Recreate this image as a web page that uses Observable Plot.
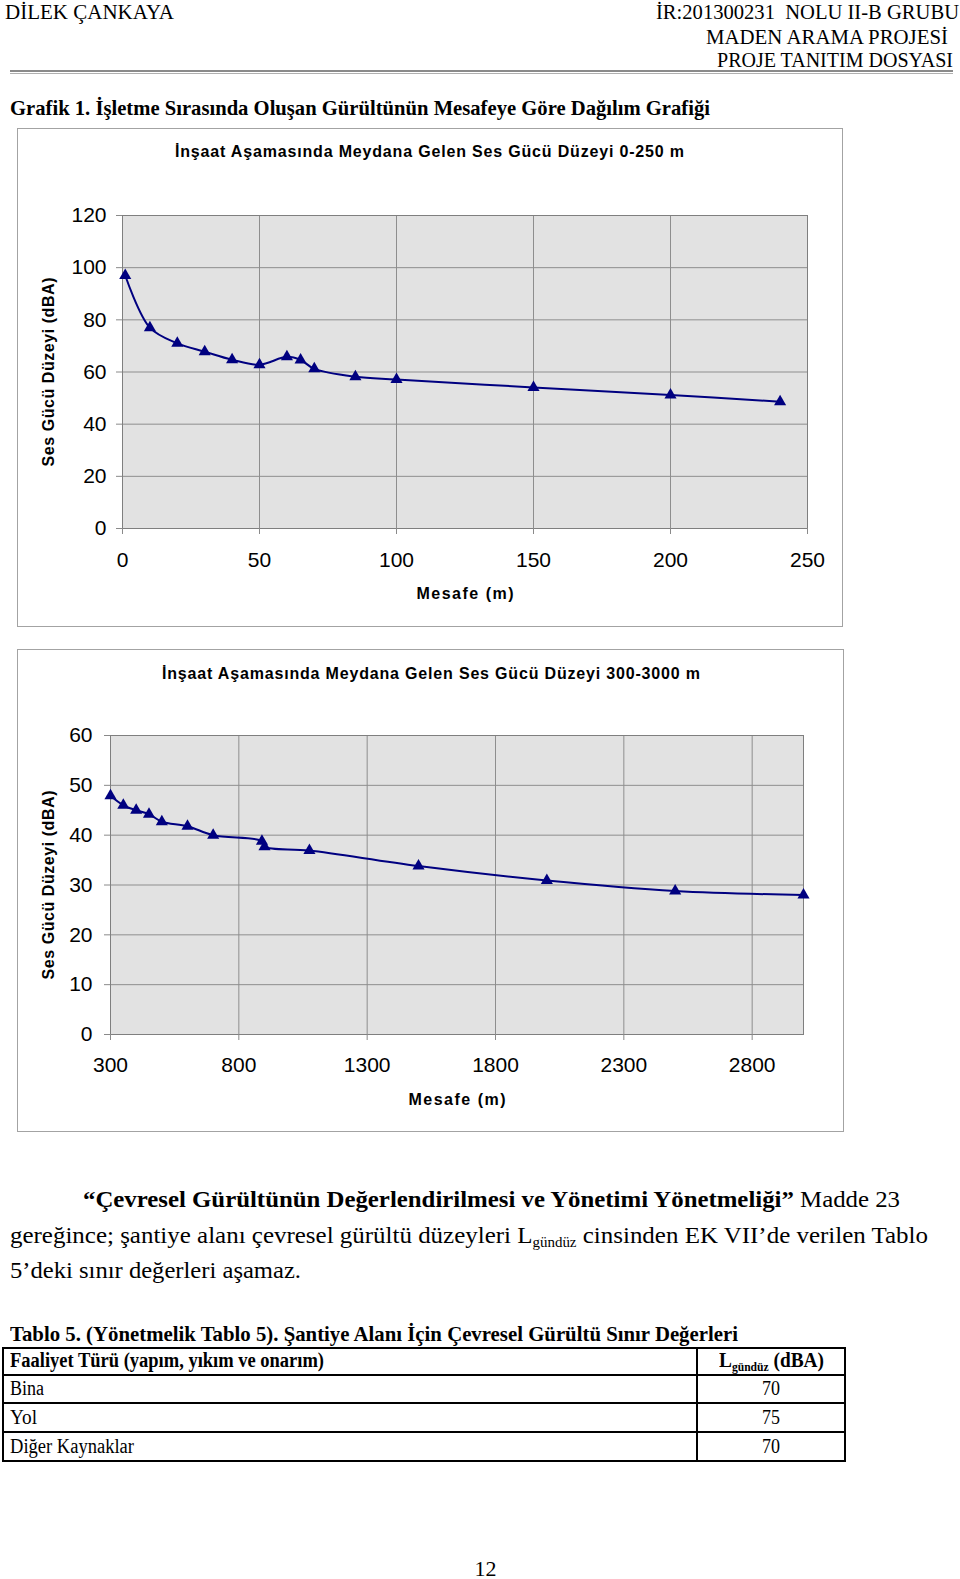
<!DOCTYPE html>
<html>
<head>
<meta charset="utf-8">
<script src="https://cdn.jsdelivr.net/npm/d3@7"></script>
<script src="https://cdn.jsdelivr.net/npm/@observablehq/plot@0.6"></script>
<style>
html, body { margin: 0; padding: 0; background: #fff; }
body { width: 960px; height: 1579px; position: relative; overflow: hidden; }
.t { position: absolute; white-space: pre; color: #000; transform-origin: 0 0; }
.sub { font-size: 0.6em; position: relative; top: 0.3em; line-height: 0; }
.box { position: absolute; box-sizing: border-box; border: 1.5px solid #a3a3a3; background: #fff; }
.ln { position: absolute; }
.chart { position: absolute; }
</style>
</head>
<body>
<script>
// ---- data: chart 1 (0-250 m) ----
const distance1 = [1, 10, 20, 30, 40, 50, 60, 65, 70, 85, 100, 150, 200, 240];
const level1 = [97, 77, 71, 67.8, 64.7, 62.8, 65.8, 64.6, 61.2, 58.2, 57.1, 54.1, 51.2, 48.6];
const xTicks1 = [0, 50, 100, 150, 200, 250];
const yTicks1 = [0, 20, 40, 60, 80, 100, 120];

// ---- data: chart 2 (300-3000 m) ----
const distance2 = [300, 350, 400, 450, 500, 600, 700, 890, 900, 1075, 1500, 2000, 2500, 3000];
const level2 = [47.9, 46, 45, 44.2, 42.7, 41.8, 40, 38.8, 37.7, 36.9, 33.8, 30.9, 28.8, 28];
const xTicks2 = [300, 800, 1300, 1800, 2300, 2800];
const yTicks2 = [0, 10, 20, 30, 40, 50, 60];

// ---- texts ----
const chartTitle1 = "İnşaat Aşamasında Meydana Gelen Ses Gücü Düzeyi 0-250 m";
const chartTitle2 = "İnşaat Aşamasında Meydana Gelen Ses Gücü Düzeyi 300-3000 m";
const xLabel = "Mesafe (m)";
const yLabel = "Ses Gücü Düzeyi (dBA)";
const tableRows = ["Bina", "Yol", "Diğer Kaynaklar"];
const tableValues = [70, 75, 70];

const SERIF = "'Liberation Serif', 'Times New Roman', serif";
const SANS = "'Liberation Sans', Arial, sans-serif";

function addText(html, o) {
  const el = document.createElement("div");
  el.className = "t";
  const serif = o.serif !== false;
  el.style.fontFamily = serif ? SERIF : SANS;
  el.style.fontSize = o.size + "px";
  el.style.lineHeight = o.size + "px";
  if (o.bold) el.style.fontWeight = "bold";
  el.innerHTML = html;
  document.body.appendChild(el);
  const w = el.getBoundingClientRect().width;
  const asc = serif ? 0.8375 : 0.8465;
  el.style.top = (o.baseline - asc * o.size) + "px";
  const left = o.x != null ? o.x : (o.right != null ? o.right - o.width : o.center - o.width / 2);
  el.style.left = left + "px";
  if (o.ls) {
    const n = el.textContent.length;
    el.style.letterSpacing = ((o.width - w) / (n - 1)) + "px";
  } else {
    el.style.transform = `scaleX(${o.width / w})`;
  }
  return el;
}
function addLine(x, y, w, h, color) {
  const el = document.createElement("div");
  el.className = "ln";
  Object.assign(el.style, {left: x + "px", top: y + "px", width: w + "px", height: h + "px", background: color});
  document.body.appendChild(el);
}
function addBox(x, y, w, h) {
  const el = document.createElement("div");
  el.className = "box";
  Object.assign(el.style, {left: x + "px", top: y + "px", width: w + "px", height: h + "px"});
  document.body.appendChild(el);
}

// ---- page header ----
addText("DİLEK ÇANKAYA", {x: 5, baseline: 20, size: 21, width: 169});
addText("İR:201300231  NOLU II-B GRUBU", {right: 959, baseline: 20, size: 21, width: 303});
addText("MADEN ARAMA PROJESİ", {right: 948, baseline: 44.5, size: 21, width: 242});
addText("PROJE TANITIM DOSYASI", {right: 953, baseline: 68, size: 21, width: 236});
addLine(10, 69.5, 943, 2, "#8a8a8a");
addLine(10, 73, 943, 1, "#b0b0b0");
addText("Grafik 1. İşletme Sırasında Oluşan Gürültünün Mesafeye Göre Dağılım Grafiği", {x: 10, baseline: 116, size: 21, bold: true, width: 700});

// ---- charts ----
function chart(data, o) {
  const svg = Plot.plot({
    width: o.width, height: o.height,
    marginLeft: o.mL, marginRight: o.mR, marginTop: o.mT, marginBottom: o.mB,
    style: {fontFamily: SANS, fontSize: "21px", color: "#000", background: "transparent", overflow: "visible"},
    x: {domain: o.xDomain},
    y: {domain: o.yDomain},
    marks: [
      Plot.frame({fill: "#e2e2e2", stroke: "none"}),
      Plot.gridX(o.xTicks, {stroke: "#8e8e8e", strokeOpacity: 1}),
      Plot.gridY(o.yTicks, {stroke: "#8e8e8e", strokeOpacity: 1}),
      Plot.frame({stroke: "#7f7f7f", fill: "none"}),
      Plot.axisX(o.xTicks, {tickSize: 6, tickPadding: o.xPad, tickFormat: "d", stroke: "#8a8a8a", fill: "#000",
        label: xLabel, labelAnchor: "center", labelOffset: o.xLabOff, labelArrow: false}),
      Plot.axisY(o.yTicks, {tickSize: 6, tickPadding: o.yPad, tickFormat: "d", stroke: "#8a8a8a", fill: "#000",
        label: yLabel, labelAnchor: "center", labelOffset: o.yLabOff, labelArrow: false}),
      Plot.line(data, {x: "distance", y: "level", stroke: "#000080", strokeWidth: 2, curve: "catmull-rom"}),
      Plot.dot(data, {x: "distance", y: "level", symbol: "triangle", r: 4.5, fill: "#000080", stroke: "none"})
    ]
  });
  svg.querySelectorAll('g[aria-label="x-axis label"] text').forEach(t => {
    t.setAttribute("font-size", "16");
    t.setAttribute("font-weight", "bold");
    t.setAttribute("textLength", o.xLabLen);
    t.setAttribute("lengthAdjust", "spacing");
  });
  svg.querySelectorAll('g[aria-label="y-axis label"] text').forEach(t => {
    t.setAttribute("font-size", "16");
    t.setAttribute("font-weight", "bold");
    t.setAttribute("textLength", o.yLabLen);
    t.setAttribute("lengthAdjust", "spacing");
  });
  const wrap = document.createElement("div");
  wrap.className = "chart";
  wrap.style.left = o.left + "px";
  wrap.style.top = o.top + "px";
  wrap.appendChild(svg);
  return wrap;
}

const data1 = distance1.map((d, i) => ({distance: d, level: level1[i]}));
const data2 = distance2.map((d, i) => ({distance: d, level: level2[i]}));

addBox(17, 128, 826, 499);
document.body.appendChild(chart(data1, {
  left: 17, top: 128, width: 826, height: 499, mL: 105, mR: 36, mT: 87, mB: 99,
  xDomain: [0, 250], yDomain: [0, 120], xTicks: xTicks1, yTicks: yTicks1,
  xPad: 18, yPad: 10, xLabOff: 70, yLabOff: 80, xLabLen: 97, yLabLen: 189
}));
addText(chartTitle1, {x: 175, baseline: 158, size: 16, bold: true, serif: false, width: 509, ls: true});

addBox(17, 649, 827, 483);
document.body.appendChild(chart(data2, {
  left: 17, top: 649, width: 827, height: 483, mL: 93, mR: 41, mT: 86, mB: 98,
  xDomain: [300, 3000], yDomain: [0, 60], xTicks: xTicks2, yTicks: yTicks2,
  xPad: 17, yPad: 12, xLabOff: 70, yLabOff: 68, xLabLen: 97, yLabLen: 189
}));
addText(chartTitle2, {x: 162, baseline: 680, size: 16, bold: true, serif: false, width: 538, ls: true});

// ---- paragraph ----
addText("<b>“Çevresel Gürültünün Değerlendirilmesi ve Yönetimi Yönetmeliği”</b> Madde 23", {x: 83, baseline: 1207, size: 24, width: 817});
addText("gereğince; şantiye alanı çevresel gürültü düzeyleri L<span class=\"sub\">gündüz</span> cinsinden EK VII’de verilen Tablo", {x: 10, baseline: 1243, size: 24, width: 918});
addText("5’deki sınır değerleri aşamaz.", {x: 10, baseline: 1278, size: 24, width: 291});

// ---- table ----
addText("Tablo 5. (Yönetmelik Tablo 5). Şantiye Alanı İçin Çevresel Gürültü Sınır Değerleri", {x: 10, baseline: 1342, size: 21, bold: true, width: 728});
addLine(2, 1347, 844, 2, "#000");
addLine(2, 1374, 844, 2, "#000");
addLine(2, 1402, 844, 2, "#000");
addLine(2, 1431, 844, 2, "#000");
addLine(2, 1460, 844, 2, "#000");
addLine(2, 1347, 2, 115, "#000");
addLine(844, 1347, 2, 115, "#000");
addLine(696, 1347, 2, 115, "#000");
addText("Faaliyet Türü (yapım, yıkım ve onarım)", {x: 10, baseline: 1367, size: 20, bold: true, width: 314});
addText("<b>L<span class=\"sub\">gündüz</span> (dBA)</b>", {x: 719, baseline: 1367, size: 20, width: 105});
const rowBase = [1395, 1424, 1453];
const rowWidths = [34, 27, 124];
tableRows.forEach((r, i) => addText(r, {x: 10, baseline: rowBase[i], size: 20, width: rowWidths[i]}));
tableValues.forEach((v, i) => addText(String(v), {center: 771, baseline: rowBase[i], size: 20, width: 18}));

// ---- page number ----
addText("12", {center: 485.5, baseline: 1576, size: 22, width: 22});
</script>
</body>
</html>
